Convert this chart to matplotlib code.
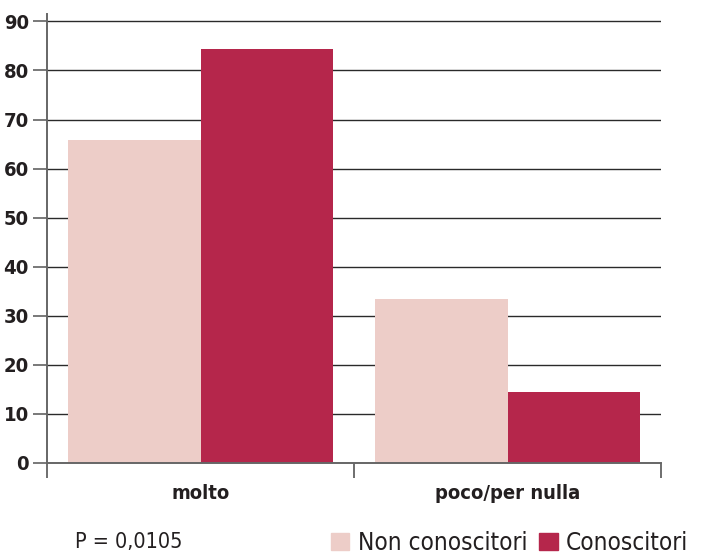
import numpy as np
import matplotlib
matplotlib.use("Agg")
import matplotlib.pyplot as plt
from matplotlib.patches import Patch

plt.rcParams['font.family'] = ['DejaVu Sans']
plt.rcParams['font.stretch'] = 'condensed'

categories = ["molto", "poco/per nulla"]
non_conoscitori = [65.8, 33.5]
conoscitori = [84.4, 14.5]
series_names = ["Non conoscitori", "Conoscitori"]
yticks = [0, 10, 20, 30, 40, 50, 60, 70, 80, 90]

c_non = "#EDCDC8"
c_con = "#B5264B"
txt = "#231F20"

fig = plt.figure(figsize=(7.05, 5.55), dpi=100)
ax = fig.add_axes([47 / 705, 1 - 463 / 555, (661 - 47) / 705, (463 - 14) / 555])

x = np.arange(len(categories)) + 0.5
w = 0.431
ax.bar(x - w / 2, non_conoscitori, w, color=c_non, zorder=2)
ax.bar(x + w / 2, conoscitori, w, color=c_con, zorder=2)

ax.set_xlim(0, len(categories))
ax.set_ylim(0, 91.5)
ax.set_yticks(yticks)
ax.set_yticklabels([str(t) for t in yticks], fontsize=14.5, fontweight="bold", color=txt)
ax.yaxis.grid(True, color="#2a2a2a", linewidth=1.0, zorder=0)
ax.set_axisbelow(True)

ax.set_xticks(x)
ax.set_xticklabels(categories, fontsize=14.5, fontweight="bold", color=txt)
ax.tick_params(axis="x", which="major", length=0, pad=15)
ax.set_xticks(np.arange(len(categories) + 1), minor=True)
ax.tick_params(axis="x", which="minor", length=11, width=1.2, color="#555", direction="out")
ax.tick_params(axis="y", length=10, width=1.1, color="#555", pad=3)

for s in ["top", "right"]:
    ax.spines[s].set_visible(False)
for s in ["left", "bottom"]:
    ax.spines[s].set_color("#666")
    ax.spines[s].set_linewidth(1.4)

fig.text(75 / 705, 1 - 542 / 555, "P = 0,0105", fontsize=15.5, color=txt, va="center")

handles = [Patch(color=c_non), Patch(color=c_con)]
fig.legend(handles, series_names, loc="center right", bbox_to_anchor=(698 / 705, 1 - 543 / 555),
           ncol=2, frameon=False, fontsize=17.5, handlelength=0.75, handleheight=0.75,
           handletextpad=0.35, columnspacing=0.5, borderaxespad=0, labelcolor=txt)

plt.savefig("out.png", dpi=100)
